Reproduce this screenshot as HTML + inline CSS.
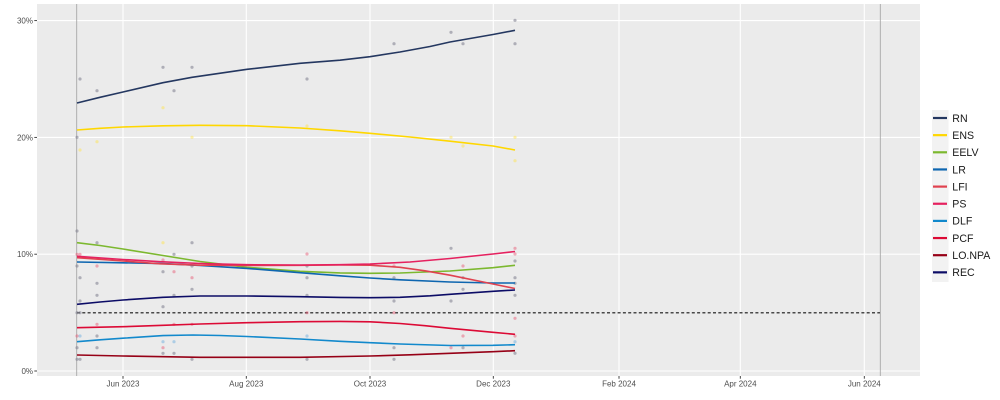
<!DOCTYPE html>
<html><head><meta charset="utf-8"><style>
html,body{margin:0;padding:0;background:#fff;}
svg{display:block;}
text{font-family:"Liberation Sans",sans-serif;}
</style></head><body>
<svg width="1000" height="400" viewBox="0 0 1000 400" xmlns="http://www.w3.org/2000/svg">
<rect x="0" y="0" width="1000" height="400" fill="#fff"/>
<!-- panel -->
<rect x="37" y="4" width="883" height="372" fill="#ebebeb"/>
<g stroke="#fff" stroke-width="1.1" fill="none">
<line x1="37" y1="20.6" x2="920" y2="20.6"/>
<line x1="37" y1="137.4" x2="920" y2="137.4"/>
<line x1="37" y1="254.2" x2="920" y2="254.2"/>
<line x1="37" y1="371" x2="920" y2="371"/>
<line x1="123" y1="4" x2="123" y2="376"/>
<line x1="246.3" y1="4" x2="246.3" y2="376"/>
<line x1="370" y1="4" x2="370" y2="376"/>
<line x1="493.3" y1="4" x2="493.3" y2="376"/>
<line x1="619" y1="4" x2="619" y2="376"/>
<line x1="740.3" y1="4" x2="740.3" y2="376"/>
<line x1="864.3" y1="4" x2="864.3" y2="376"/>
</g>
<!-- vlines -->
<line x1="76.7" y1="4" x2="76.7" y2="376" stroke="#a8a8a8" stroke-width="0.9"/>
<line x1="880.3" y1="4" x2="880.3" y2="376" stroke="#a8a8a8" stroke-width="0.9"/>
<!-- dashed 5% -->
<line x1="77" y1="312.7" x2="880" y2="312.7" stroke="#4a4a4a" stroke-width="1.5" stroke-dasharray="3 2.3"/>

<!-- points -->
<g>
<g fill="#858595" fill-opacity="0.6">
<circle cx="77" cy="137.3" r="1.6"/><circle cx="77" cy="231" r="1.6"/><circle cx="77" cy="266" r="1.6"/><circle cx="77" cy="312.7" r="1.6"/><circle cx="77" cy="347.7" r="1.6"/><circle cx="77" cy="359.3" r="1.6"/>
<circle cx="80" cy="79" r="1.6"/><circle cx="80" cy="277.7" r="1.6"/><circle cx="80" cy="301" r="1.6"/><circle cx="80" cy="312.7" r="1.6"/><circle cx="80" cy="359.3" r="1.6"/>
<circle cx="97" cy="90.7" r="1.6"/><circle cx="97" cy="242.7" r="1.6"/><circle cx="97" cy="283.3" r="1.6"/><circle cx="97" cy="295.3" r="1.6"/><circle cx="97" cy="336" r="1.6"/><circle cx="97" cy="347.7" r="1.6"/>
<circle cx="163" cy="67.3" r="1.6"/><circle cx="163" cy="271.7" r="1.6"/><circle cx="163" cy="306.7" r="1.6"/><circle cx="163" cy="353.3" r="1.6"/>
<circle cx="174" cy="90.7" r="1.6"/><circle cx="174" cy="254.3" r="1.6"/><circle cx="174" cy="295.3" r="1.6"/><circle cx="174" cy="353.3" r="1.6"/>
<circle cx="192" cy="67.3" r="1.6"/><circle cx="192" cy="242.7" r="1.6"/><circle cx="192" cy="266" r="1.6"/><circle cx="192" cy="289.3" r="1.6"/><circle cx="192" cy="359.3" r="1.6"/>
<circle cx="307" cy="79" r="1.6"/><circle cx="307" cy="266" r="1.6"/><circle cx="307" cy="277.7" r="1.6"/><circle cx="307" cy="295.3" r="1.6"/><circle cx="307" cy="359.3" r="1.6"/>
<circle cx="394" cy="43.7" r="1.6"/><circle cx="394" cy="277.7" r="1.6"/><circle cx="394" cy="301" r="1.6"/><circle cx="394" cy="347.7" r="1.6"/><circle cx="394" cy="359.3" r="1.6"/>
<circle cx="451" cy="32.3" r="1.6"/><circle cx="451" cy="248.3" r="1.6"/><circle cx="451" cy="301" r="1.6"/>
<circle cx="463" cy="43.7" r="1.6"/><circle cx="463" cy="277.7" r="1.6"/><circle cx="463" cy="289.3" r="1.6"/><circle cx="463" cy="347.7" r="1.6"/>
<circle cx="515" cy="20.3" r="1.6"/><circle cx="515" cy="43.7" r="1.6"/><circle cx="515" cy="261" r="1.6"/><circle cx="515" cy="277.7" r="1.6"/><circle cx="515" cy="283.3" r="1.6"/><circle cx="515" cy="295.3" r="1.6"/><circle cx="515" cy="353.3" r="1.6"/>
</g>
<g fill="#e8607a" fill-opacity="0.5">
<circle cx="77" cy="254.3" r="1.6"/><circle cx="77" cy="336" r="1.6"/><circle cx="80" cy="254.3" r="1.6"/>
<circle cx="97" cy="266" r="1.6"/><circle cx="97" cy="324.3" r="1.6"/>
<circle cx="163" cy="260" r="1.6"/><circle cx="163" cy="347.7" r="1.6"/>
<circle cx="174" cy="271.7" r="1.6"/><circle cx="174" cy="324.3" r="1.6"/>
<circle cx="192" cy="277.7" r="1.6"/><circle cx="192" cy="324.3" r="1.6"/>
<circle cx="307" cy="254" r="1.6"/><circle cx="307" cy="312.7" r="1.6"/>
<circle cx="394" cy="266" r="1.6"/><circle cx="394" cy="312.7" r="1.6"/>
<circle cx="451" cy="347.7" r="1.6"/>
<circle cx="463" cy="266" r="1.6"/><circle cx="463" cy="336" r="1.6"/>
<circle cx="515" cy="248.3" r="1.6"/><circle cx="515" cy="254" r="1.6"/><circle cx="515" cy="318.3" r="1.6"/><circle cx="515" cy="336" r="1.6"/>
</g>
<g fill="#ffe240" fill-opacity="0.45">
<circle cx="80" cy="150" r="1.6"/><circle cx="97" cy="141.7" r="1.6"/><circle cx="163" cy="107.7" r="1.6"/><circle cx="163" cy="242.7" r="1.6"/><circle cx="192" cy="137.3" r="1.6"/><circle cx="307" cy="126" r="1.6"/><circle cx="451" cy="137.3" r="1.6"/><circle cx="463" cy="146" r="1.6"/><circle cx="515" cy="137.3" r="1.6"/><circle cx="515" cy="160.7" r="1.6"/>
</g>
<g fill="#6fb0e0" fill-opacity="0.5">
<circle cx="80" cy="336" r="1.6"/><circle cx="163" cy="341.7" r="1.6"/><circle cx="174" cy="341.7" r="1.6"/><circle cx="307" cy="336" r="1.6"/><circle cx="515" cy="341.7" r="1.6"/>
</g>
</g>

<!-- lines -->
<g fill="none" stroke-width="1.6" stroke-linejoin="round" stroke-linecap="butt">
<polyline stroke="#243760" points="77,103 100,97.3 123,92 163,82.7 192,77.3 247,69.3 300,63.3 340,60.2 370,56.7 400,52 430,46.5 450,42 493,34.5 515,30.3"/>
<polyline stroke="#ffd700" points="77,130 100,128.3 123,127 163,125.8 200,125.3 247,125.7 300,128 340,130.8 370,133.3 410,137 450,141.2 493,146 515,150"/>
<polyline stroke="#7cb82f" points="77,242.7 100,245.5 123,249 163,255.5 200,261.5 247,267.3 300,271.3 340,272.9 370,273.3 400,273 450,271 493,267.7 515,265.3"/>
<polyline stroke="#0e66b0" points="77,262 123,262.8 163,263.6 200,265.4 247,268.4 300,272.7 340,275.8 370,278 400,279.8 450,282 493,283 515,283"/>
<polyline stroke="#e0424f" points="77,257.7 123,261 160,263.8 200,265.2 247,265.5 300,265.3 340,265 370,265.2 400,267.3 425,270.8 450,275.2 493,284 515,288.5"/>
<polyline stroke="#e5215f" points="77,256.3 123,259.5 160,261.7 200,263.5 247,264.7 300,265 340,264.7 370,264 410,262 450,258.5 493,254 515,251.5"/>
<polyline stroke="#1289cc" points="77,341.7 100,339.8 123,338.2 163,335.6 193,335 220,335.5 247,336.5 300,339 340,341.3 370,342.7 400,344 450,345.5 493,345.3 515,344.7"/>
<polyline stroke="#dc0a35" points="77,327.7 123,326.7 163,325.3 200,324 247,322.7 300,321.7 340,321.4 370,321.8 400,323.5 425,325.7 450,328.3 493,332.3 515,334.3"/>
<polyline stroke="#960016" points="77,355 123,356 200,357.3 300,357.3 370,356 410,354.8 450,353.3 493,351.7 515,350.7"/>
<polyline stroke="#0c0c66" points="77,304.3 100,302 123,300 163,297.3 200,296 247,296 300,296.7 340,297.4 370,297.7 400,297.3 430,295.8 450,294.3 493,291.3 515,290"/>
</g>

<!-- axis ticks -->
<g stroke="#333" stroke-width="0.9">
<line x1="34.3" y1="20.6" x2="37" y2="20.6"/>
<line x1="34.3" y1="137.4" x2="37" y2="137.4"/>
<line x1="34.3" y1="254.2" x2="37" y2="254.2"/>
<line x1="34.3" y1="371" x2="37" y2="371"/>
<line x1="123" y1="376" x2="123" y2="378.7"/>
<line x1="246.3" y1="376" x2="246.3" y2="378.7"/>
<line x1="370" y1="376" x2="370" y2="378.7"/>
<line x1="493.3" y1="376" x2="493.3" y2="378.7"/>
<line x1="619" y1="376" x2="619" y2="378.7"/>
<line x1="740.3" y1="376" x2="740.3" y2="378.7"/>
<line x1="864.3" y1="376" x2="864.3" y2="378.7"/>
</g>
<g fill="#4d4d4d" font-size="8" text-anchor="end">
<text x="33" y="23.5">30%</text>
<text x="33" y="140.3">20%</text>
<text x="33" y="257.1">10%</text>
<text x="33" y="373.9">0%</text>
</g>
<g fill="#4d4d4d" font-size="8" text-anchor="middle">
<text x="123" y="386.3">Jun 2023</text>
<text x="246.3" y="386.3">Aug 2023</text>
<text x="370" y="386.3">Oct 2023</text>
<text x="493.3" y="386.3">Dec 2023</text>
<text x="619" y="386.3">Feb 2024</text>
<text x="740.3" y="386.3">Apr 2024</text>
<text x="864.3" y="386.3">Jun 2024</text>
</g>

<!-- legend -->
<rect x="932" y="110" width="16.5" height="172" fill="#f2f2f2"/>
<g stroke-width="2.2">
<line x1="933" y1="118" x2="947" y2="118" stroke="#243760"/>
<line x1="933" y1="135.15" x2="947" y2="135.15" stroke="#ffd700"/>
<line x1="933" y1="152.3" x2="947" y2="152.3" stroke="#7cb82f"/>
<line x1="933" y1="169.45" x2="947" y2="169.45" stroke="#0e66b0"/>
<line x1="933" y1="186.6" x2="947" y2="186.6" stroke="#e0424f"/>
<line x1="933" y1="203.75" x2="947" y2="203.75" stroke="#e5215f"/>
<line x1="933" y1="220.9" x2="947" y2="220.9" stroke="#1289cc"/>
<line x1="933" y1="238.05" x2="947" y2="238.05" stroke="#dc0a35"/>
<line x1="933" y1="255.2" x2="947" y2="255.2" stroke="#960016"/>
<line x1="933" y1="272.35" x2="947" y2="272.35" stroke="#0c0c66"/>
</g>
<g fill="#1a1a1a" font-size="10.6">
<text x="952.3" y="121.8">RN</text>
<text x="952.3" y="138.95">ENS</text>
<text x="952.3" y="156.1">EELV</text>
<text x="952.3" y="173.25">LR</text>
<text x="952.3" y="190.4">LFI</text>
<text x="952.3" y="207.55">PS</text>
<text x="952.3" y="224.7">DLF</text>
<text x="952.3" y="241.85">PCF</text>
<text x="952.3" y="259">LO.NPA</text>
<text x="952.3" y="276.15">REC</text>
</g>
</svg>
</body></html>
